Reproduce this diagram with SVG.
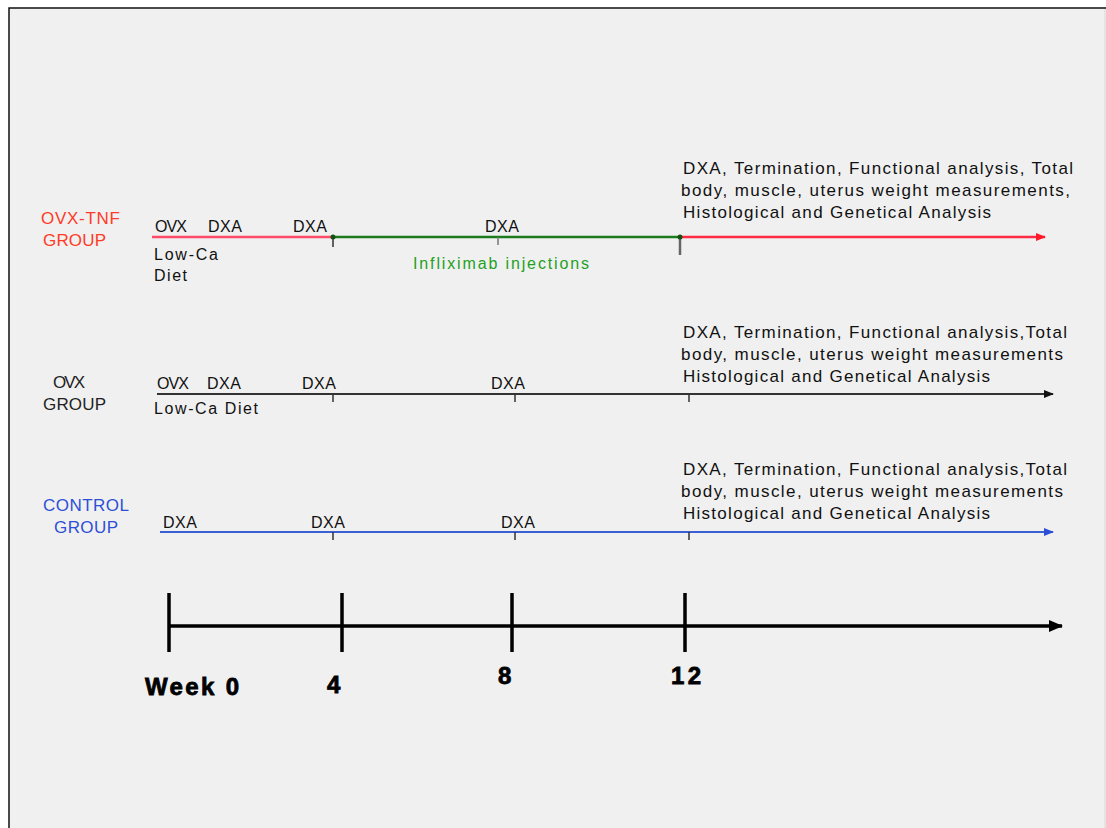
<svg xmlns="http://www.w3.org/2000/svg" width="1106" height="828" viewBox="0 0 1106 828">
<style>
text{font-family:"Liberation Sans",Arial,sans-serif;}
.s{font-size:16px;fill:#111;}
.r{font-size:17px;fill:#111;}
.lab{font-size:17px;}
.red{fill:#ff3a26;}
.blue{fill:#2c4fd6;}
.blk{fill:#222;}
.grn{fill:#22a022;font-size:16px;}
.ax{font-size:24px;font-weight:bold;fill:#000;stroke:#000;stroke-width:0.8;}
.tick{stroke:#333;stroke-width:1.5;}
.big{stroke:#000;stroke-width:3.5;}
</style>
<defs>
<marker id="aR" markerWidth="10" markerHeight="8" refX="9" refY="4" orient="auto" markerUnits="userSpaceOnUse"><path d="M0,0 L10,4 L0,8 Z" fill="#ff1a2a"/></marker>
<marker id="aK" markerWidth="10" markerHeight="8" refX="9" refY="4" orient="auto" markerUnits="userSpaceOnUse"><path d="M0,0 L10,4 L0,8 Z" fill="#111"/></marker>
<marker id="aB" markerWidth="10" markerHeight="8" refX="9" refY="4" orient="auto" markerUnits="userSpaceOnUse"><path d="M0,0 L10,4 L0,8 Z" fill="#2c4fd6"/></marker>
<marker id="aX" markerWidth="14" markerHeight="12" refX="13" refY="6" orient="auto" markerUnits="userSpaceOnUse"><path d="M0,0 L14,6 L0,12 Z" fill="#000"/></marker>
</defs>
<rect x="0" y="0" width="1106" height="828" fill="#ffffff"/>
<rect x="9" y="8" width="1110" height="830" fill="#f0f0f0" stroke="#111" stroke-width="1.5"/>
<line x1="1105" y1="9" x2="1105" y2="828" stroke="#d8d8d8" stroke-width="1"/>

<g id="connectors">
  <!-- OVX-TNF -->
  <line x1="152" y1="237" x2="333" y2="237" stroke="#ff4a6a" stroke-width="2.5"/>
  <line x1="333" y1="237" x2="680" y2="237" stroke="#1e7a1e" stroke-width="2.5"/>
  <line x1="680" y1="237" x2="1045" y2="237" stroke="#ff2a44" stroke-width="2.5" marker-end="url(#aR)"/>
  <line x1="333" y1="237" x2="333" y2="247" class="tick"/>
  <line x1="498" y1="237" x2="498" y2="245" stroke="#777" stroke-width="1.5"/>
  <line x1="680" y1="237" x2="680" y2="255" stroke="#666" stroke-width="2.5"/>
  <circle cx="333" cy="237" r="2.5" fill="#145214"/>
  <circle cx="680" cy="237" r="2.5" fill="#145214"/>
  <!-- OVX -->
  <line x1="157" y1="394" x2="1053" y2="394" stroke="#333" stroke-width="2" marker-end="url(#aK)"/>
  <line x1="333" y1="394" x2="333" y2="402" class="tick"/>
  <line x1="515" y1="394" x2="515" y2="402" class="tick"/>
  <line x1="689" y1="394" x2="689" y2="402" class="tick"/>
  <!-- Control -->
  <line x1="160" y1="532" x2="1053" y2="532" stroke="#3a60d6" stroke-width="2" marker-end="url(#aB)"/>
  <line x1="333" y1="532" x2="333" y2="540" class="tick"/>
  <line x1="515" y1="532" x2="515" y2="540" class="tick"/>
  <line x1="689" y1="532" x2="689" y2="540" class="tick"/>
  <!-- Axis -->
  <line x1="169" y1="626" x2="1062" y2="626" class="big" marker-end="url(#aX)"/>
  <line x1="169" y1="593" x2="169" y2="652" class="big"/>
  <line x1="342" y1="593" x2="342" y2="652" class="big"/>
  <line x1="512" y1="593" x2="512" y2="652" class="big"/>
  <line x1="685" y1="593" x2="685" y2="652" class="big"/>
</g>

<g id="ovx-tnf-group">
  <text x="41" y="224" class="lab red" textLength="79">OVX-TNF</text>
  <text x="43" y="246" class="lab red" textLength="63">GROUP</text>
  <text x="155" y="232" class="s" textLength="32">OVX</text>
  <text x="208" y="232" class="s" textLength="34">DXA</text>
  <text x="293" y="232" class="s" textLength="34">DXA</text>
  <text x="485" y="232" class="s" textLength="34">DXA</text>
  <text x="154" y="260" class="s" textLength="64">Low-Ca</text>
  <text x="154" y="281" class="s" textLength="33">Diet</text>
  <text x="413" y="269" class="grn" textLength="176">Infliximab injections</text>
  <text x="683" y="174" class="r" textLength="390">DXA, Termination, Functional analysis, Total</text>
  <text x="681" y="196" class="r" textLength="389">body, muscle, uterus weight measurements,</text>
  <text x="683" y="218" class="r" textLength="308">Histological and Genetical Analysis</text>
</g>

<g id="ovx-group">
  <text x="53" y="388" class="lab blk" textLength="32">OVX</text>
  <text x="43" y="410" class="lab blk" textLength="63">GROUP</text>
  <text x="157" y="389" class="s" textLength="32">OVX</text>
  <text x="207" y="389" class="s" textLength="34">DXA</text>
  <text x="302" y="389" class="s" textLength="34">DXA</text>
  <text x="491" y="389" class="s" textLength="34">DXA</text>
  <text x="154" y="414" class="s" textLength="104">Low-Ca Diet</text>
  <text x="683" y="338" class="r" textLength="384">DXA, Termination, Functional analysis,Total</text>
  <text x="681" y="360" class="r" textLength="382">body, muscle, uterus weight measurements</text>
  <text x="683" y="382" class="r" textLength="307">Histological and Genetical Analysis</text>
</g>

<g id="control-group">
  <text x="43" y="511" class="lab blue" textLength="86">CONTROL</text>
  <text x="54" y="533" class="lab blue" textLength="64">GROUP</text>
  <text x="163" y="528" class="s" textLength="34">DXA</text>
  <text x="311" y="528" class="s" textLength="34">DXA</text>
  <text x="501" y="528" class="s" textLength="34">DXA</text>
  <text x="683" y="475" class="r" textLength="384">DXA, Termination, Functional analysis,Total</text>
  <text x="681" y="497" class="r" textLength="382">body, muscle, uterus weight measurements</text>
  <text x="683" y="519" class="r" textLength="307">Histological and Genetical Analysis</text>
</g>

<g id="time-axis">
  <text x="145" y="695" class="ax" textLength="94">Week 0</text>
  <text x="327" y="693" class="ax">4</text>
  <text x="498" y="684" class="ax">8</text>
  <text x="671" y="684" class="ax" textLength="30">12</text>
</g>
</svg>
